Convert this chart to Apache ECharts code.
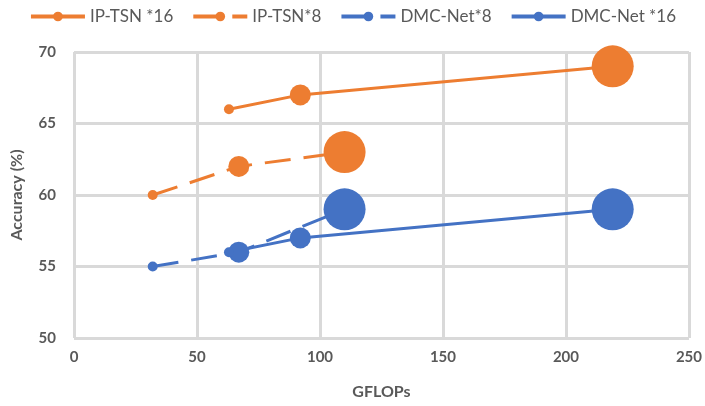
<!DOCTYPE html>
<html>
<head>
<meta charset="utf-8">
<script src="https://cdn.jsdelivr.net/npm/echarts@6/dist/echarts.min.js"></script>
<style>
  html, body { margin: 0; padding: 0; background: #fff; }
  #chart { width: 705px; height: 406px; }
</style>
</head>
<body>
<div id="chart"></div>
<script>
// values
const seriesNames = ['IP-TSN *16', 'IP-TSN*8', 'DMC-Net*8', 'DMC-Net *16'];
const ipTsn16 = [[63, 66], [92, 67], [219, 69]];
const ipTsn8 = [[32, 60], [67, 62], [110, 63]];
const dmcNet8 = [[32, 55], [67, 56], [110, 59]];
const dmcNet16 = [[63, 56], [92, 57], [219, 59]];
const xTicks = [0, 50, 100, 150, 200, 250];
const yTicks = [50, 55, 60, 65, 70];

const ORANGE = '#ED7D31';
const BLUE = '#4472C4';
const FONT = 'Lato';
const markerSizes = [10, 21, 42];

function makeSeries(name, data, color, dashed) {
    return {
        name: name,
        type: 'line',
        data: data,
        symbol: 'circle',
        symbolSize: (val, params) => markerSizes[params.dataIndex],
        itemStyle: { color: color },
        lineStyle: { color: color, width: 3, type: dashed ? [26, 13] : 'solid' },
        emphasis: { disabled: true },
        animation: false
    };
}

let myChart = echarts.init(document.getElementById('chart'));
myChart.setOption({
    legend: {
        top: 3,
        left: 'center',
        itemWidth: 54,
        itemHeight: 12,
        itemGap: 18,
        lineStyle: { width: 4 },
        textStyle: { fontFamily: FONT, fontSize: 17, color: '#595959' },
        data: seriesNames
    },
    grid: { left: 74, right: 16, top: 52, bottom: 68 },
    xAxis: {
        type: 'value',
        min: xTicks[0],
        max: xTicks[xTicks.length - 1],
        interval: 50,
        name: 'GFLOPs',
        nameLocation: 'middle',
        nameGap: 46,
        nameTextStyle: { fontFamily: FONT, fontSize: 16, fontWeight: 'bold', color: '#595959' },
        axisLine: { show: false },
        axisTick: { show: false },
        axisLabel: { fontFamily: FONT, fontSize: 15, fontWeight: 'bold', color: '#595959', margin: 12 },
        splitLine: { show: true, lineStyle: { color: '#D9D9D9', width: 3 } }
    },
    yAxis: {
        type: 'value',
        min: yTicks[0],
        max: yTicks[yTicks.length - 1],
        interval: 5,
        name: 'Accuracy (%)',
        nameLocation: 'middle',
        nameGap: 49,
        nameTextStyle: { fontFamily: FONT, fontSize: 16, fontWeight: 'bold', color: '#595959' },
        axisLine: { show: false },
        axisTick: { show: false },
        axisLabel: { fontFamily: FONT, fontSize: 15, fontWeight: 'bold', color: '#595959', margin: 18 },
        splitLine: { show: true, lineStyle: { color: '#D9D9D9', width: 3 } }
    },
    series: [
        makeSeries(seriesNames[0], ipTsn16, ORANGE, false),
        makeSeries(seriesNames[1], ipTsn8, ORANGE, true),
        makeSeries(seriesNames[2], dmcNet8, BLUE, true),
        makeSeries(seriesNames[3], dmcNet16, BLUE, false)
    ]
});
</script>
</body>
</html>
